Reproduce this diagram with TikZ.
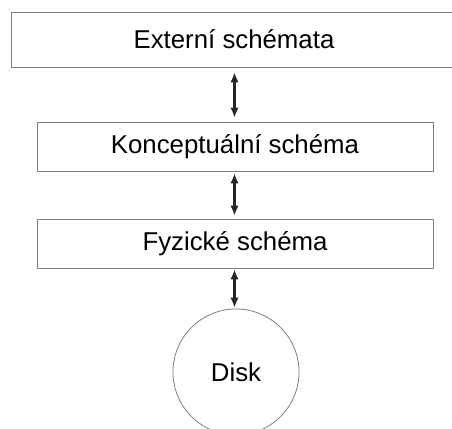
\documentclass[tikz,border=0pt]{standalone}
\usepackage{fontspec}
\setmainfont{Liberation Sans}
\usetikzlibrary{arrows.meta}
\begin{document}
\begin{tikzpicture}[x=1pt,y=1pt,
  layerbox/.style={draw=black!50, line width=0.8pt, rectangle, inner sep=0pt,
    font=\fontsize{25.8}{30}\selectfont, text=black},
  diskshape/.style={draw=black!50, line width=0.8pt, circle, inner sep=0pt,
    minimum size=126pt, font=\fontsize{25.8}{30}\selectfont, text=black},
  link/.style={draw=black!85, line width=2.4pt, {Latex[length=10pt,width=8.5pt]}-{Latex[length=10pt,width=8.5pt]}}]
\useasboundingbox (0,0) rectangle (452,-428);
\clip (0,0) rectangle (452,-428);
\node[layerbox, minimum width=446pt, minimum height=55pt] (ext) at (234,-39.5) {Externí schémata};
\node[layerbox, minimum width=396pt, minimum height=49pt] (konc) at (235,-146.5) {Konceptuální schéma};
\node[layerbox, minimum width=396pt, minimum height=49pt] (fyz) at (235,-243.5) {Fyzické schéma};
\node[diskshape] (disk) at (236,-372) {Disk};
\draw[link, shorten <=5pt, shorten >=4pt] (ext.south -| 234.5,0) -- (konc.north -| 234.5,0);
\draw[link, shorten <=2pt, shorten >=3pt] (konc.south -| 234.5,0) -- (fyz.north -| 234.5,0);
\draw[link, shorten <=1pt, shorten >=1pt] (fyz.south -| 234.5,0) -- (disk.north -| 234.5,0);
\end{tikzpicture}
\end{document}
